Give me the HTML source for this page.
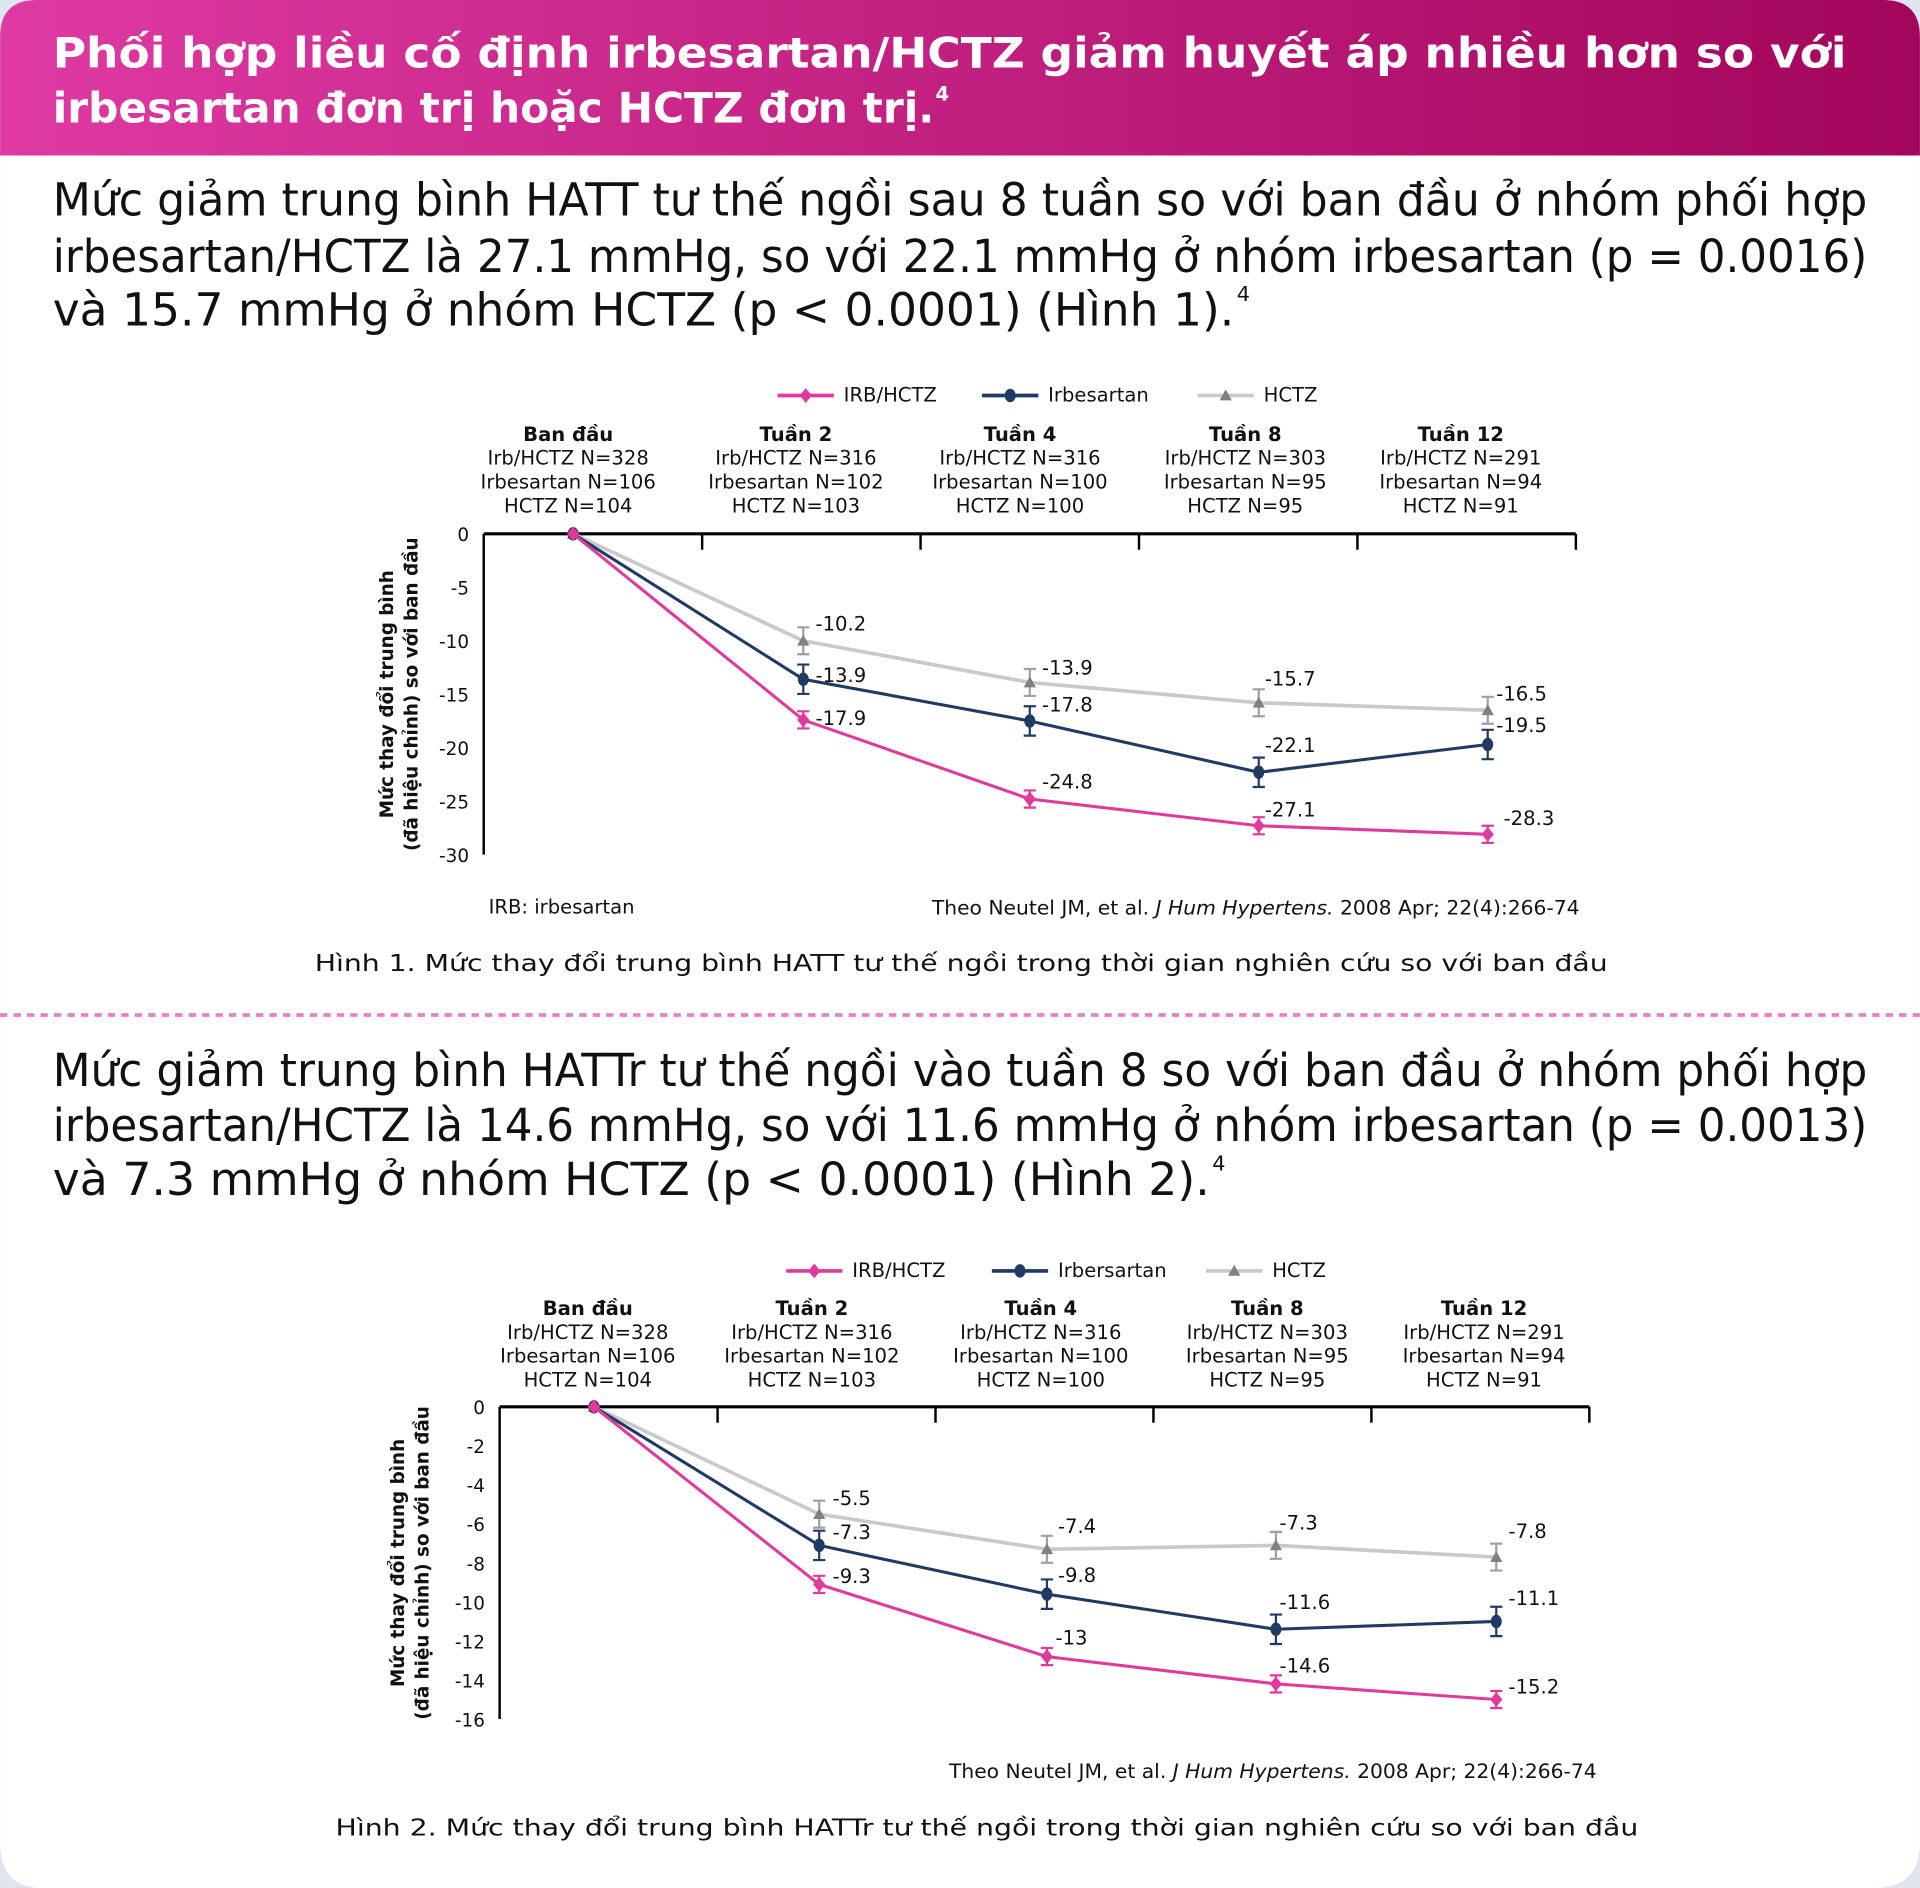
<!DOCTYPE html>
<html><head><meta charset="utf-8"><style>
html,body{margin:0;padding:0;background:#dfe5ee;}
svg{display:block;}
</style></head><body>
<svg id="s" xmlns="http://www.w3.org/2000/svg" width="1920" height="1888" viewBox="0 0 1568 1542" font-family="DejaVu Sans, Liberation Sans, sans-serif">
<defs><linearGradient id="g" x1="0" x2="1"><stop offset="0" stop-color="#de3aa3"/><stop offset="1" stop-color="#a3065c"/></linearGradient></defs>
<rect x="0" y="0" width="1568" height="1542" fill="#dfe5ee"/>
<path d="M0 30 Q0 0 30 0 H1538 Q1568 0 1568 30 V1505 Q1568 1542 1530 1542 H35 Q0 1542 0 1505 Z" fill="#fff"/>
<path d="M0 30 Q0 0 30 0 H1538 Q1568 0 1568 30 V127 H0 Z" fill="url(#g)"/>
<g fill="#fff" font-weight="bold" font-size="34">
<text x="43" y="55" textLength="1465" lengthAdjust="spacingAndGlyphs">Phối hợp liều cố định irbesartan/HCTZ giảm huyết áp nhiều hơn so với</text>
<text x="43" y="100" textLength="720" lengthAdjust="spacingAndGlyphs">irbesartan đơn trị hoặc HCTZ đơn trị.</text>
<text x="764" y="82" font-size="16">4</text>
</g>
<g fill="#111" font-size="37">
<text x="43" y="176" textLength="1482" lengthAdjust="spacingAndGlyphs">Mức giảm trung bình HATT tư thế ngồi sau 8 tuần so với ban đầu ở nhóm phối hợp</text>
<text x="43" y="222" textLength="1482" lengthAdjust="spacingAndGlyphs">irbesartan/HCTZ là 27.1 mmHg, so với 22.1 mmHg ở nhóm irbesartan (p = 0.0016)</text>
<text x="43" y="266" textLength="965" lengthAdjust="spacingAndGlyphs">và 15.7 mmHg ở nhóm HCTZ (p &lt; 0.0001) (Hình 1).</text>
<text x="1010" y="246" font-size="17">4</text>
<text x="43" y="887" textLength="1482" lengthAdjust="spacingAndGlyphs">Mức giảm trung bình HATTr tư thế ngồi vào tuần 8 so với ban đầu ở nhóm phối hợp</text>
<text x="43" y="932" textLength="1482" lengthAdjust="spacingAndGlyphs">irbesartan/HCTZ là 14.6 mmHg, so với 11.6 mmHg ở nhóm irbesartan (p = 0.0013)</text>
<text x="43" y="976" textLength="945" lengthAdjust="spacingAndGlyphs">và 7.3 mmHg ở nhóm HCTZ (p &lt; 0.0001) (Hình 2).</text>
<text x="990" y="956" font-size="17">4</text>
</g>
<line x1="0" y1="829" x2="1568" y2="829" stroke="#ec7fc3" stroke-width="3" stroke-dasharray="6 5"/>
<g id="c1"></g><g id="c2"></g>
<g fill="#111" font-size="16">
<text x="399" y="746">IRB: irbesartan</text>
<text x="761" y="747" textLength="529" lengthAdjust="spacingAndGlyphs">Theo Neutel JM, et al. <tspan font-style="italic">J Hum Hypertens.</tspan> 2008 Apr; 22(4):266-74</text>
<text x="257" y="793" font-size="19" textLength="1056" lengthAdjust="spacingAndGlyphs">Hình 1. Mức thay đổi trung bình HATT tư thế ngồi trong thời gian nghiên cứu so với ban đầu</text>
<text x="775" y="1452" textLength="529" lengthAdjust="spacingAndGlyphs">Theo Neutel JM, et al. <tspan font-style="italic">J Hum Hypertens.</tspan> 2008 Apr; 22(4):266-74</text>
<text x="274" y="1499" font-size="19" textLength="1064" lengthAdjust="spacingAndGlyphs">Hình 2. Mức thay đổi trung bình HATTr tư thế ngồi trong thời gian nghiên cứu so với ban đầu</text>
</g>
</svg>
<script>
const NS="http://www.w3.org/2000/svg";
function el(p,t,a,txt){const e=document.createElementNS(NS,t);for(const k in a)e.setAttribute(k,a[k]);if(txt!=null)e.textContent=txt;p.appendChild(e);return e;}
function marker(g,k,x,y,c){
 if(k==0)el(g,'path',{d:`M${x} ${y-6}L${x+5} ${y}L${x} ${y+6}L${x-5} ${y}Z`,fill:c});
 else if(k==1)el(g,'ellipse',{cx:x,cy:y,rx:4.5,ry:5.5,fill:c});
 else el(g,'path',{d:`M${x} ${y-5}L${x+5} ${y+4}L${x-5} ${y+4}Z`,fill:c});
}
const cols=['#e03a9c','#1f3a63','#c9c9c9'],mcols=['#e03a9c','#1f3a63','#808080'],ecols=['#e03a9c','#1f3a63','#a0a0a0'];
function chart(id,o){
 const g=document.getElementById(id);
 const Y=v=>o.y0+(-v)/o.max*(o.y1-o.y0);
 const names=o.names;
 o.leg.forEach((lx,i)=>{el(g,'line',{x1:lx,y1:o.ly,x2:lx+46,y2:o.ly,stroke:cols[i],'stroke-width':3});marker(g,i,lx+23,o.ly,mcols[i]);
  el(g,'text',{x:lx+54,y:o.ly+5,'font-size':16,fill:'#111'},names[i]);});
 const hd=[['Ban đầu','Irb/HCTZ N=328','Irbesartan N=106','HCTZ N=104'],['Tuần 2','Irb/HCTZ N=316','Irbesartan N=102','HCTZ N=103'],['Tuần 4','Irb/HCTZ N=316','Irbesartan N=100','HCTZ N=100'],['Tuần 8','Irb/HCTZ N=303','Irbesartan N=95','HCTZ N=95'],['Tuần 12','Irb/HCTZ N=291','Irbesartan N=94','HCTZ N=91']];
 hd.forEach((h,i)=>h.forEach((t,j)=>el(g,'text',{x:o.hx[i],y:o.hy+j*19.5,'text-anchor':'middle','font-size':16,'font-weight':j==0?'bold':'normal',fill:'#111'},t)));
 el(g,'line',{x1:o.ax0,y1:o.y0,x2:o.ax1,y2:o.y0,stroke:'#000','stroke-width':2.5});
 el(g,'line',{x1:o.ax0,y1:o.y0,x2:o.ax0,y2:o.y1,stroke:'#000','stroke-width':2});
 for(let i=1;i<=5;i++){const x=o.ax0+(o.ax1-o.ax0)*i/5;el(g,'line',{x1:x,y1:o.y0,x2:x,y2:o.y0+13,stroke:'#000','stroke-width':2});}
 o.ticks.forEach(v=>el(g,'text',{x:o.ax0-12,y:Y(v)+6,'text-anchor':'end','font-size':15,fill:'#111'},v==0?'0':String(v)));
 const yl=(o.ax0-o.yo),ym=(o.y0+o.y1)/2;
 el(g,'text',{transform:`translate(${yl},${ym}) rotate(-90)`,'text-anchor':'middle','font-size':15,'font-weight':'bold',fill:'#111'},'Mức thay đổi trung bình');
 el(g,'text',{transform:`translate(${yl+20},${ym}) rotate(-90)`,'text-anchor':'middle','font-size':15,'font-weight':'bold',fill:'#111'},'(đã hiệu chỉnh) so với ban đầu');
 [2,1,0].forEach(k=>{
  const d=o.data[k];const pts=d.map((v,i)=>[o.px[i],Y(v)]);
  el(g,'polyline',{points:pts.map(p=>p.join(',')).join(' '),fill:'none',stroke:cols[k],'stroke-width':k==2?3:2.5});
  pts.forEach((p,i)=>{if(i>0){const e=o.err[k];el(g,'path',{d:`M${p[0]} ${p[1]-e}V${p[1]+e}M${p[0]-5} ${p[1]-e}H${p[0]+5}M${p[0]-5} ${p[1]+e}H${p[0]+5}`,stroke:ecols[k],'stroke-width':1.8,fill:'none'});}
   marker(g,k,p[0],p[1],mcols[k]);});
 });
 o.labels.forEach(l=>el(g,'text',{x:l[0],y:l[1]+6,'font-size':16,fill:'#111'},l[2]));
}
chart('c1',{yo:74,names:['IRB/HCTZ','Irbesartan','HCTZ'],leg:[635,802,978],ly:323,hx:[464,650,833,1017,1193],hy:360,ax0:395,ax1:1287,y0:436,y1:698,max:30,ticks:[0,-5,-10,-15,-20,-25,-30],
 px:[468,656,841,1028,1215],data:[[0,-17.4,-24.8,-27.3,-28.1],[0,-13.6,-17.5,-22.3,-19.7],[0,-10,-13.9,-15.8,-16.5]],err:[7,12,11],
 labels:[[666,509,'-10.2'],[666,551,'-13.9'],[666,586,'-17.9'],[851,545,'-13.9'],[851,575,'-17.8'],[851,638,'-24.8'],[1033,554,'-15.7'],[1033,608,'-22.1'],[1033,661,'-27.1'],[1222,566,'-16.5'],[1222,592,'-19.5'],[1228,668,'-28.3']]});
chart('c2',{yo:78,names:['IRB/HCTZ','Irbersartan','HCTZ'],leg:[642,810,985],ly:1038,hx:[480,663,850,1035,1212],hy:1074,ax0:408,ax1:1298,y0:1149,y1:1404,max:16,ticks:[0,-2,-4,-6,-8,-10,-12,-14,-16],
 px:[485,669,855,1042,1222],data:[[0,-9.1,-12.8,-14.2,-15.0],[0,-7.1,-9.6,-11.4,-11.0],[0,-5.5,-7.3,-7.1,-7.7]],err:[7,12,11],
 labels:[[680,1223,'-5.5'],[680,1251,'-7.3'],[680,1287,'-9.3'],[864,1246,'-7.4'],[864,1286,'-9.8'],[862,1337,'-13'],[1045,1243,'-7.3'],[1045,1308,'-11.6'],[1045,1360,'-14.6'],[1232,1250,'-7.8'],[1232,1305,'-11.1'],[1232,1377,'-15.2']]});
</script>
</body></html>
